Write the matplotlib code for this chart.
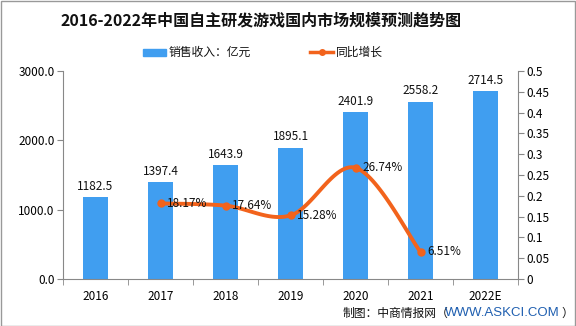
import numpy as np
import matplotlib
matplotlib.use("Agg")
import matplotlib.pyplot as plt
from matplotlib.patches import Rectangle
from matplotlib.lines import Line2D

plt.rcParams['font.family'] = ['Noto Sans CJK SC', 'DejaVu Sans']

years = ['2016', '2017', '2018', '2019', '2020', '2021', '2022E']
revenue = [1182.5, 1397.4, 1643.9, 1895.1, 2401.9, 2558.2, 2714.5]
growth_years = ['2017', '2018', '2019', '2020', '2021']
growth = [0.1817, 0.1764, 0.1528, 0.2674, 0.0651]
growth_labels = ['18.17%', '17.64%', '15.28%', '26.74%', '6.51%']
left_ticks = [0, 1000, 2000, 3000]
right_ticks = [0, 0.05, 0.1, 0.15, 0.2, 0.25, 0.3, 0.35, 0.4, 0.45, 0.5]

BAR = '#409EF0'
LINE = '#F2631C'
W, H = 576, 326
fig = plt.figure(figsize=(W / 100, H / 100), dpi=100)
ax = fig.add_axes([63 / W, 1 - 279 / H, (518 - 63) / W, (279 - 71) / H])
ax2 = ax.twinx()

x = np.arange(len(years))
ax.bar(x, revenue, width=0.38, color=BAR, zorder=2)
for xi, v in zip(x, revenue):
    ax.text(xi, v + 60, f'{v:.1f}', ha='center', va='bottom', fontsize=8.5, color='#111')
ax.set_xlim(-0.5, len(years) - 0.5)
ax.set_ylim(0, 3000)
ax.set_yticks(left_ticks)
ax.set_yticklabels([f'{t:.1f}' for t in left_ticks], fontsize=8.5)
ax.set_xticks(x)
ax.set_xticklabels(years, fontsize=8.5)
ax.set_xticks(np.arange(len(years) + 1) - 0.5, minor=True)
ax.tick_params(axis='x', which='major', length=0, pad=8)
ax.tick_params(axis='x', which='minor', length=4, color='#888')
ax.tick_params(axis='y', length=4, color='#888', pad=2)
for s in ['top', 'right']:
    ax.spines[s].set_visible(False)
ax.spines['left'].set_color('#888')
ax.spines['bottom'].set_color('#888')

gx = np.array([years.index(y) for y in growth_years], dtype=float)
gy = np.array(growth)
# smooth curve through the points (Catmull-Rom rendering)
def smooth(px, py, n=30):
    P = np.column_stack([px, py])
    P = np.vstack([P[0], P, P[-1]])
    out = []
    for i in range(1, len(P) - 2):
        p0, p1, p2, p3 = P[i - 1], P[i], P[i + 1], P[i + 2]
        t = np.linspace(0, 1, n)[:, None]
        seg = 0.5 * ((2 * p1) + (-p0 + p2) * t + (2 * p0 - 5 * p1 + 4 * p2 - p3) * t ** 2 + (-p0 + 3 * p1 - 3 * p2 + p3) * t ** 3)
        out.append(seg)
    S = np.vstack(out)
    return S[:, 0], S[:, 1]
sx, sy = smooth(gx, gy)
ax2.plot(sx, sy, color=LINE, lw=2.8, zorder=3)
ax2.plot(gx, gy, 'o', color=LINE, ms=5, zorder=4)
for xi, v, lab in zip(gx, gy, growth_labels):
    ax2.text(xi + 0.1, v, lab, ha='left', va='center', fontsize=8.5, color='#111')
ax2.set_ylim(0, 0.5)
ax2.set_yticks(right_ticks)
ax2.set_yticklabels([f'{t:g}' for t in right_ticks], fontsize=8.5)
ax2.tick_params(axis='y', length=4, color='#888', pad=2)
for s in ['top', 'left', 'bottom']:
    ax2.spines[s].set_visible(False)
ax2.spines['right'].set_color('#888')

fig.text(261 / W, 1 - 20 / H, '2016-2022年中国自主研发游戏国内市场规模预测趋势图', ha='center', va='center',
         fontsize=11.5, fontweight='bold', color='#111')
# legend
fig.patches.append(Rectangle((143 / W, 1 - 56 / H), 23 / W, 7 / H, transform=fig.transFigure, color=BAR))
fig.text(169 / W, 1 - 52 / H, '销售收入：亿元', ha='left', va='center', fontsize=8.5, color='#111')
fig.lines.append(Line2D([310 / W, 333 / W], [1 - 52 / H, 1 - 52 / H], transform=fig.transFigure, color=LINE, lw=2.5))
fig.lines.append(Line2D([321.5 / W], [1 - 52 / H], transform=fig.transFigure, color=LINE, marker='o', ms=4))
fig.text(336 / W, 1 - 52 / H, '同比增长', ha='left', va='center', fontsize=8.5, color='#111')
# source line
ys = 1 - 313 / H
fig.text(343 / W, ys, '制图：中商情报网（', ha='left', va='center', fontsize=8.5, color='#111')
fig.text(560 / W, ys, 'WWW.ASKCI.COM', ha='right', va='center', fontsize=9.5, color='#1F5FB0',
         family=['Liberation Sans', 'DejaVu Sans'])
fig.text(561 / W, ys, '）', ha='left', va='center', fontsize=8.5, color='#111')
# border
fig.patches.append(Rectangle((0.5 / W, 0.5 / H), 1 - 1.5 / W, 1 - 1.5 / H, transform=fig.transFigure,
                             fill=False, edgecolor='#999', lw=1))

fig.savefig('out.png', dpi=100)
